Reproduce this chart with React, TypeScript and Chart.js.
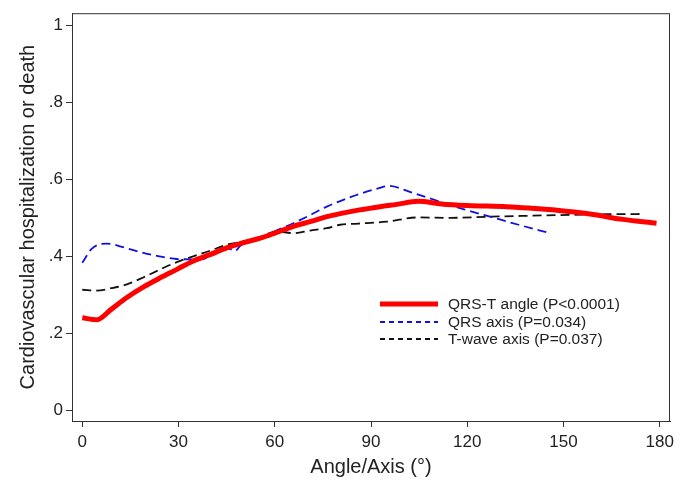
import React, { useEffect, useRef } from "react";
import { Chart, registerables } from "chart.js";

Chart.register(...registerables);

const qrstX = [0, 4.6, 9, 13.9, 19, 24.3, 29.5, 34.6, 40, 45, 50, 55.5, 60.6, 65.8, 71, 76.2, 80.4, 86, 92.8, 98, 104.7, 112, 120, 132.3, 140, 147.9, 158.3, 168.5, 179];
const qrstY = [0.24, 0.235, 0.262, 0.293, 0.32, 0.344, 0.366, 0.388, 0.405, 0.422, 0.435, 0.447, 0.462, 0.478, 0.49, 0.503, 0.511, 0.52, 0.529, 0.535, 0.543, 0.536, 0.532, 0.529, 0.525, 0.52, 0.51, 0.496, 0.486];

const qrsX = [0, 3, 7.7, 13, 19, 24, 29.5, 36.8, 41, 45, 47.7, 49.2, 55.5, 60, 65.8, 71, 76.2, 84, 92.8, 95.4, 103, 111.5, 119, 127.1, 136, 145.8];
const qrsY = [0.383, 0.42, 0.433, 0.423, 0.409, 0.4, 0.393, 0.392, 0.405, 0.422, 0.414, 0.427, 0.447, 0.465, 0.486, 0.507, 0.529, 0.555, 0.578, 0.583, 0.565, 0.542, 0.522, 0.503, 0.482, 0.46];

const twaveX = [0, 4.6, 9, 13.9, 19, 24.3, 29.5, 34.6, 40, 45, 51.3, 56, 60.6, 65.8, 71, 76.2, 80.4, 86, 94.9, 104.7, 115, 127, 137, 147.9, 160, 174.8];
const twaveY = [0.313, 0.311, 0.317, 0.327, 0.345, 0.366, 0.385, 0.4, 0.415, 0.43, 0.44, 0.452, 0.465, 0.46, 0.467, 0.473, 0.482, 0.485, 0.49, 0.501, 0.5, 0.503, 0.505, 0.507, 0.509, 0.51];

const xTicks = [0, 30, 60, 90, 120, 150, 180];
const yTicks = [0, 0.2, 0.4, 0.6, 0.8, 1];
const yTickLabels = ["0", ".2", ".4", ".6", ".8", "1"];

const legendLabels = ["QRS-T angle (P<0.0001)", "QRS axis (P=0.034)", "T-wave axis (P=0.037)"];

const FONT = "'Liberation Sans', Arial, sans-serif";

function pts(xs: number[], ys: number[]) {
  return xs.map((x, i) => ({ x, y: ys[i] }));
}

export default function App() {
  const ref = useRef<HTMLCanvasElement | null>(null);
  useEffect(() => {
    document.body.style.margin = "0";
    const canvas = ref.current!;
    const boxPlugin = {
      id: "boxAndLegend",
      afterDraw(chart: any) {
        const { ctx, chartArea } = chart;
        ctx.save();
        ctx.strokeStyle = "#333";
        ctx.lineWidth = 1;
        ctx.setLineDash([]);
        ctx.strokeRect(chartArea.left + 0.5, chartArea.top + 0.5, chartArea.right - chartArea.left - 1, chartArea.bottom - chartArea.top);
        const styles = [
          { color: "#ff0000", width: 5, dash: [] as number[] },
          { color: "#1010e0", width: 1.8, dash: [5, 4] },
          { color: "#111", width: 1.8, dash: [5, 4] },
        ];
        const x0 = 380, x1 = 438, tx = 448;
        const rows = [304, 322, 339];
        ctx.font = `15.5px ${FONT}`;
        ctx.textBaseline = "middle";
        rows.forEach((yy, i) => {
          const s = styles[i];
          ctx.beginPath();
          ctx.strokeStyle = s.color;
          ctx.lineWidth = s.width;
          ctx.setLineDash(s.dash);
          ctx.moveTo(x0, yy);
          ctx.lineTo(x1, yy);
          ctx.stroke();
          ctx.fillStyle = "#222";
          ctx.fillText(legendLabels[i], tx, yy + 1);
        });
        ctx.restore();
      },
    };
    const chart = new Chart(canvas, {
      type: "line",
      data: {
        datasets: [
          {
            label: legendLabels[0],
            data: pts(qrstX, qrstY),
            borderColor: "#ff0000",
            borderWidth: 5,
            pointRadius: 0,
            cubicInterpolationMode: "monotone",
            fill: false,
          },
          {
            label: legendLabels[1],
            data: pts(qrsX, qrsY),
            borderColor: "#1010e0",
            borderWidth: 1.8,
            borderDash: [9, 5],
            pointRadius: 0,
            cubicInterpolationMode: "monotone",
            fill: false,
          },
          {
            label: legendLabels[2],
            data: pts(twaveX, twaveY),
            borderColor: "#111",
            borderWidth: 1.8,
            borderDash: [9, 5],
            pointRadius: 0,
            cubicInterpolationMode: "monotone",
            fill: false,
          },
        ],
      },
      options: {
        responsive: false,
        animation: false,
        layout: { padding: { left: 0, top: 7, right: 19, bottom: 0 } },
        plugins: { legend: { display: false }, tooltip: { enabled: false } },
        scales: {
          x: {
            type: "linear",
            min: -3.2,
            max: 183.2,
            afterBuildTicks: (scale: any) => {
              scale.ticks = xTicks.map((v) => ({ value: v }));
            },
            afterFit: (scale: any) => {
              scale.height = 83;
            },
            ticks: {
              font: { family: FONT, size: 17 },
              color: "#222",
              padding: 5,
              maxRotation: 0,
              callback: (v: any) => String(v),
            },
            grid: { drawOnChartArea: false, drawTicks: true, tickLength: 6, color: "#333" },
            border: { display: true, color: "#333", width: 1 },
            title: {
              display: true,
              text: "Angle/Axis (°)",
              font: { family: FONT, size: 20 },
              color: "#222",
              padding: { top: 0, bottom: 25 },
            },
          },
          y: {
            type: "linear",
            min: -0.0282,
            max: 1.032,
            afterBuildTicks: (scale: any) => {
              scale.ticks = yTicks.map((v) => ({ value: v }));
            },
            afterFit: (scale: any) => {
              scale.width = 72;
            },
            ticks: {
              font: { family: FONT, size: 17 },
              color: "#222",
              padding: 3,
              callback: (v: any) => {
                const i = yTicks.findIndex((t) => Math.abs(t - v) < 1e-6);
                return i >= 0 ? yTickLabels[i] : "";
              },
            },
            grid: { drawOnChartArea: false, drawTicks: true, tickLength: 6, color: "#333" },
            border: { display: true, color: "#333", width: 1 },
            title: {
              display: true,
              text: "Cardiovascular hospitalization or death",
              font: { family: FONT, size: 20 },
              color: "#222",
              padding: { top: 16, bottom: 0 },
            },
          },
        },
      },
      plugins: [boxPlugin],
    } as any);
    return () => chart.destroy();
  }, []);
  return <canvas ref={ref} width={689} height={504} style={{ display: "block" }} />;
}
